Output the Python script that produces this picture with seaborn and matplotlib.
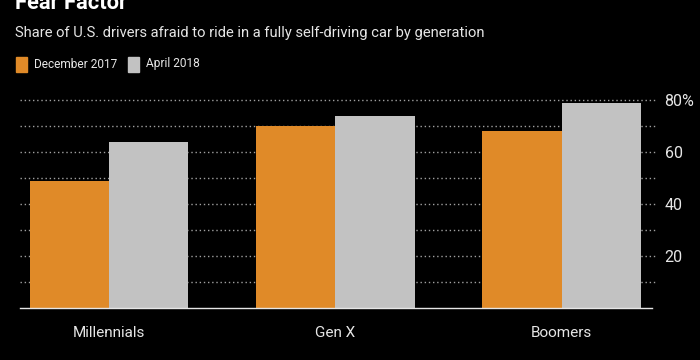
import pandas as pd
import matplotlib
matplotlib.use("Agg")
import matplotlib.pyplot as plt
import seaborn as sns

# Dados
geracoes = ["Millennials", "Gen X", "Boomers"]
dez_2017 = [49, 70, 68]
abr_2018 = [64, 74, 79]
series = ["December 2017", "April 2018"]
y_ticks = [20, 40, 60, 80]
y_labels = ["20", "40", "60", "80%"]

BG = "#000000"
ORANGE = "#E08A28"
GRAY = "#C2C2C2"
TXT = "#E6E6E6"

df = pd.DataFrame({
    "geracao": geracoes * 2,
    "serie": [series[0]] * 3 + [series[1]] * 3,
    "valor": dez_2017 + abr_2018,
})

sns.set_style("dark")
plt.rcParams["font.family"] = ["Roboto", "DejaVu Sans"]

fig = plt.figure(figsize=(7, 3.6), dpi=100, facecolor=BG)
renderer = fig.canvas.get_renderer()


def fit(t, largura):
    # ajusta o tamanho da fonte para a largura desejada (px)
    w = t.get_window_extent(renderer).width
    t.set_fontsize(t.get_fontsize() * largura / w)
    return t


ax = fig.add_axes([20 / 700, 1 - 308 / 360, 632 / 700, 240 / 360])
ax.set_facecolor(BG)

sns.barplot(data=df, x="geracao", y="valor", hue="serie",
            palette=[ORANGE, GRAY], width=0.7, saturation=1,
            linewidth=0, legend=False, ax=ax)

ax.set_xlim(-0.395, 2.4)
ax.set_ylim(0, 92.3)

# grade pontilhada a cada 10
for v in range(10, 90, 10):
    ax.plot([-0.395, 2.42], [v, v], color="#a0a0a0", linestyle=(0, (1, 2)),
            linewidth=1, zorder=0, clip_on=False)
ax.grid(False)

ax.yaxis.tick_right()
ax.set_yticks(y_ticks)
ax.set_yticklabels(y_labels)
ax.tick_params(axis="y", length=0, pad=9, labelsize=11.5, labelcolor=TXT)
ax.tick_params(axis="x", length=4, color=TXT, labelsize=11, labelcolor=TXT, pad=9)
ax.set_xlabel("")
ax.set_ylabel("")
for s in ["top", "left", "right"]:
    ax.spines[s].set_visible(False)
ax.spines["bottom"].set_color(TXT)
ax.spines["bottom"].set_linewidth(1)

# título, subtítulo e legenda
t = fig.text(15 / 700, 1 - 9 / 360, "Fear Factor", color="white", fontsize=16,
             fontweight="bold", va="baseline", ha="left")
fit(t, 112)
t = fig.text(15 / 700, 1 - 33 / 360,
             "Share of U.S. drivers afraid to ride in a fully self-driving car by generation",
             color=TXT, fontsize=11, va="center", ha="left")
fit(t, 468)

fig.patches.append(plt.Rectangle((16 / 700, 1 - 72 / 360), 11 / 700, 15 / 360,
                                 transform=fig.transFigure, color=ORANGE))
t = fig.text(34 / 700, 1 - 64 / 360, series[0], color=TXT, fontsize=11, va="center")
fit(t, 84)
fig.patches.append(plt.Rectangle((128 / 700, 1 - 72 / 360), 11 / 700, 15 / 360,
                                 transform=fig.transFigure, color=GRAY))
t = fig.text(146 / 700, 1 - 64 / 360, series[1], color=TXT, fontsize=11, va="center")
fit(t, 54)

fig.savefig("out.png", dpi=100, facecolor=BG)
